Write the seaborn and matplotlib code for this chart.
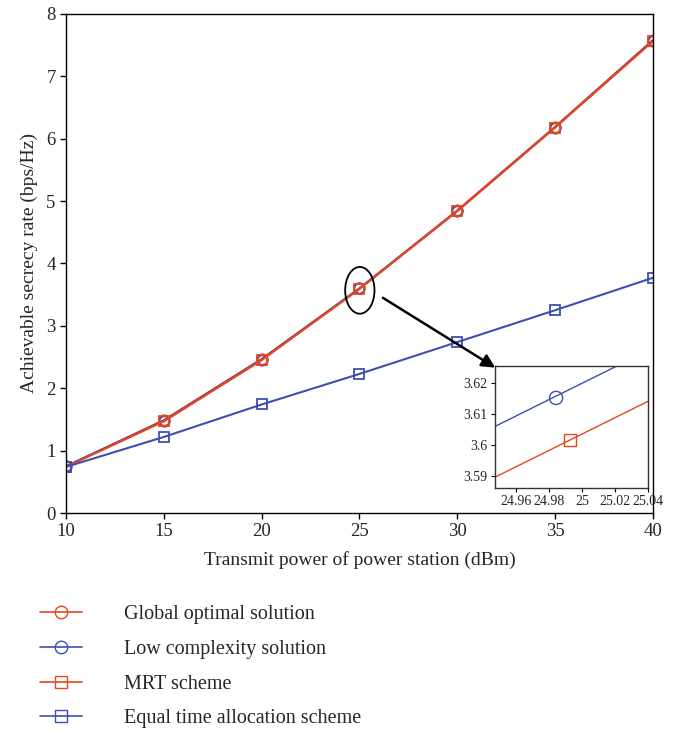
import matplotlib
matplotlib.use("Agg")
import matplotlib.pyplot as plt
from matplotlib.patches import Ellipse
from matplotlib.lines import Line2D
import seaborn as sns
import pandas as pd

# ---- data ----
power = [10, 15, 20, 25, 30, 35, 40]
global_opt = [0.75, 1.49, 2.47, 3.60, 4.85, 6.19, 7.58]
low_complex = [0.75, 1.48, 2.46, 3.60, 4.84, 6.18, 7.57]
mrt = [0.74, 1.47, 2.45, 3.59, 4.84, 6.18, 7.56]
equal_time = [0.74, 1.22, 1.74, 2.23, 2.74, 3.25, 3.77]

# zoomed inset data
inset_low_x = [24.946, 25.04]
inset_low_y = [3.6058, 3.6306]
inset_low_mark_x = [24.9842]
inset_low_mark_y = [3.6153]
inset_mrt_x = [24.946, 25.04]
inset_mrt_y = [3.5894, 3.6142]
inset_mrt_mark_x = [24.9927]
inset_mrt_mark_y = [3.6017]

labels = ["Global optimal solution", "Low complexity solution",
          "MRT scheme", "Equal time allocation scheme"]
xticks_main = [10, 15, 20, 25, 30, 35, 40]
yticks_main = [0, 1, 2, 3, 4, 5, 6, 7, 8]
xticks_inset = [24.96, 24.98, 25.0, 25.02, 25.04]
xtick_inset_labels = ["24.96", "24.98", "25", "25.02", "25.04"]
yticks_inset = [3.59, 3.60, 3.61, 3.62]
ytick_inset_labels = ["3.59", "3.6", "3.61", "3.62"]

RED = "#e8461e"
BLUE = "#3d4fb2"

sns.set_theme(style="white")
plt.rcParams["font.family"] = ["Liberation Serif", "DejaVu Serif"]

fig = plt.figure(figsize=(6.75, 7.35), dpi=100)
ax = fig.add_axes([0.098, 0.302, 0.869, 0.679])

series = [
    (global_opt, RED, "o"),
    (low_complex, BLUE, "o"),
    (mrt, RED, "s"),
    (equal_time, BLUE, "s"),
]
for vals, col, mk in series:
    df = pd.DataFrame({"x": power, "y": vals})
    sns.lineplot(data=df, x="x", y="y", ax=ax, color=col, marker=mk,
                 markersize=7.5, markerfacecolor="none", markeredgecolor=col,
                 markeredgewidth=1.3, linewidth=1.5)

ax.set_xlim(10, 40)
ax.set_ylim(0, 8)
ax.set_xticks(xticks_main)
ax.set_yticks(yticks_main)
ax.tick_params(axis="both", labelsize=13.5, direction="out", length=4,
               width=1, color="black", bottom=True, left=True)
ax.set_xlabel("Transmit power of power station (dBm)", fontsize=14, labelpad=8)
ax.set_ylabel("Achievable secrecy rate (bps/Hz)", fontsize=14, labelpad=6)
for s in ax.spines.values():
    s.set_color("black")
    s.set_linewidth(1.0)

# ellipse + arrow
ax.add_patch(Ellipse((25.02, 3.57), width=1.5, height=0.75, fill=False,
                     edgecolor="black", linewidth=1.3, zorder=5))
ax.annotate("", xy=(31.95, 2.33), xytext=(26.2, 3.45),
            arrowprops=dict(arrowstyle="-|>", color="black", lw=1.8,
                            mutation_scale=20, shrinkA=0, shrinkB=0))

# inset
axin = fig.add_axes([0.733, 0.336, 0.227, 0.166])
sns.lineplot(x=inset_low_x, y=inset_low_y, ax=axin, color=BLUE, linewidth=1.0)
sns.lineplot(x=inset_mrt_x, y=inset_mrt_y, ax=axin, color=RED, linewidth=1.0)
sns.scatterplot(x=inset_low_mark_x, y=inset_low_mark_y, ax=axin, marker="o",
                s=90, facecolor="none", edgecolor=BLUE, linewidth=1.0)
sns.scatterplot(x=inset_mrt_mark_x, y=inset_mrt_mark_y, ax=axin, marker="s",
                s=80, facecolor="none", edgecolor=RED, linewidth=1.0)
axin.set_xlim(24.947, 25.04)
axin.set_ylim(3.5862, 3.6256)
axin.set_xticks(xticks_inset)
axin.set_xticklabels(xtick_inset_labels)
axin.set_yticks(yticks_inset)
axin.set_yticklabels(ytick_inset_labels)
axin.tick_params(axis="both", labelsize=10, direction="out", length=3,
                 width=0.8, color="black", bottom=True, left=True, pad=2)
for s in axin.spines.values():
    s.set_color("#333333")
    s.set_linewidth(1.0)

# legend below
handles = [
    Line2D([], [], color=RED, marker="o", markersize=9, markerfacecolor="none",
           markeredgecolor=RED, linewidth=1.2),
    Line2D([], [], color=BLUE, marker="o", markersize=9, markerfacecolor="none",
           markeredgecolor=BLUE, linewidth=1.2),
    Line2D([], [], color=RED, marker="s", markersize=8, markerfacecolor="none",
           markeredgecolor=RED, linewidth=1.2),
    Line2D([], [], color=BLUE, marker="s", markersize=8, markerfacecolor="none",
           markeredgecolor=BLUE, linewidth=1.2),
]
fig.legend(handles, labels, loc="upper left", bbox_to_anchor=(0.047, 0.188),
           frameon=False, fontsize=14.5, handlelength=2.1, labelspacing=0.78,
           handletextpad=2.1, borderaxespad=0)

fig.savefig("out.png", dpi=100)
